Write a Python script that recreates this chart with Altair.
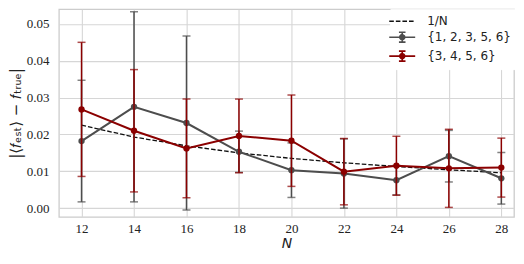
import altair as alt
import pandas as pd

N = [12, 14, 16, 18, 20, 22, 24, 26, 28]
gray_mean = [0.0182, 0.0275, 0.0231, 0.0153, 0.0103, 0.0094, 0.0076, 0.0141, 0.0081]
gray_err = [0.0165, 0.0258, 0.0236, 0.0056, 0.0074, 0.0094, 0.0040, 0.0070, 0.0070]
red_mean = [0.0268, 0.0210, 0.0162, 0.0196, 0.0183, 0.0099, 0.0115, 0.0108, 0.0110]
red_err = [0.0182, 0.0166, 0.0134, 0.0100, 0.0124, 0.0090, 0.0080, 0.0106, 0.0080]
inv_n = [0.0225, 0.0193, 0.0169, 0.0150, 0.0135, 0.0123, 0.0113, 0.0104, 0.0096]

series_names = ["1/N", "{1, 2, 3, 5, 6}", "{3, 4, 5, 6}"]
series_colors = ["#111111", "#4d4d4d", "#8b0000"]
x_ticks = [12, 14, 16, 18, 20, 22, 24, 26, 28]
y_ticks = [0.0, 0.01, 0.02, 0.03, 0.04, 0.05]

XDOM = [11.137, 28.483]
YDOM = [-0.00236, 0.05398]

def frame(mean, err, name):
    return pd.DataFrame({
        "N": N, "m": mean,
        "lo": [a - b for a, b in zip(mean, err)],
        "hi": [a + b for a, b in zip(mean, err)],
        "series": name,
    })

gray_df = frame(gray_mean, gray_err, series_names[1])
red_df = frame(red_mean, red_err, series_names[2])
inv_df = pd.DataFrame({"N": N, "v": inv_n})
legend_df = pd.DataFrame({"series": series_names})

xs = alt.Scale(domain=XDOM, nice=False, zero=False)
ys = alt.Scale(domain=YDOM, nice=False, zero=False)

x_axis = alt.Axis(values=x_ticks, title="N", grid=True, ticks=False, tickSize=0,
                  domain=False, labelFont="Liberation Serif", labelFontSize=13,
                  labelColor="#222222", labelPadding=6,
                  titleFont="DejaVu Sans", titleFontStyle="italic",
                  titleFontWeight="normal", titleFontSize=14, titleColor="#222222",
                  titlePadding=1)
y_axis = alt.Axis(values=y_ticks, format=".2f", title="|⟨𝑓ₑₛₜ⟩ − 𝑓ₜᵣᵤₑ|", grid=True,
                  ticks=False, tickSize=0, domain=False,
                  labelFont="Liberation Serif", labelFontSize=13, labelColor="#222222",
                  labelPadding=10, titleFont="DejaVu Sans", titleFontWeight="normal",
                  titleFontSize=15, titleColor="#222222", titlePadding=3)

base_x = alt.X("N:Q", scale=xs, axis=x_axis)

inv_line = alt.Chart(inv_df).mark_line(color="#111111", strokeWidth=1.3,
                                       strokeDash=[4.6, 2.0]).encode(
    x=base_x, y=alt.Y("v:Q", scale=ys, axis=y_axis))

def series_layers(df, color):
    x = alt.X("N:Q", scale=xs)
    line = alt.Chart(df).mark_line(color=color, strokeWidth=2).encode(
        x=x, y=alt.Y("m:Q", scale=ys))
    rule = alt.Chart(df).mark_rule(color=color, strokeWidth=1.5).encode(
        x=x, y=alt.Y("lo:Q", scale=ys), y2="hi:Q")
    cap_lo = alt.Chart(df).mark_tick(color=color, orient="horizontal", size=8,
                                     thickness=1.5).encode(x=x, y=alt.Y("lo:Q", scale=ys))
    cap_hi = alt.Chart(df).mark_tick(color=color, orient="horizontal", size=8,
                                     thickness=1.5).encode(x=x, y=alt.Y("hi:Q", scale=ys))
    pts = alt.Chart(df).mark_circle(color=color, size=40, opacity=1).encode(
        x=x, y=alt.Y("m:Q", scale=ys))
    return [line, rule, cap_lo, cap_hi, pts]

err_path = ("M-1.857,0H1.857M0,-0.714V0.714M-0.47,-0.714H0.47M-0.47,0.714H0.47"
            "M-0.35,0A0.35,0.35,0,1,0,0.35,0A0.35,0.35,0,1,0,-0.35,0Z")
dash_path = "M-1.857,0H1.857"

legend_layer = alt.Chart(legend_df).mark_point(opacity=0, size=196, strokeWidth=1.6).encode(
    fill=alt.Fill("series:N", scale=alt.Scale(domain=series_names, range=series_colors),
                  legend=alt.Legend(title=None)),
    stroke=alt.Stroke("series:N", scale=alt.Scale(domain=series_names, range=series_colors),
                      legend=alt.Legend(title=None)),
    shape=alt.Shape("series:N", scale=alt.Scale(domain=series_names,
                                                range=[dash_path, err_path, err_path]),
                    legend=alt.Legend(title=None)),
    strokeDash=alt.StrokeDash("series:N", scale=alt.Scale(domain=series_names,
                                                          range=[[4.6, 2.0], [1, 0], [1, 0]]),
                              legend=alt.Legend(title=None)),
)

layers = [inv_line] + series_layers(gray_df, series_colors[1]) + \
    series_layers(red_df, series_colors[2]) + [legend_layer]

chart = alt.layer(*layers).properties(
    width=456, height=208,
    padding={"left": 0, "top": 0, "right": 0, "bottom": 0},
).configure_view(
    stroke="#cccccc", strokeWidth=1.3
).configure_axis(
    gridColor="#d6d6d6", gridWidth=1.1
).configure_legend(
    orient="none", legendX=332, legendY=0, padding=4,
    fillColor="white", strokeColor="white",
    symbolSize=196, symbolStrokeWidth=1.6, symbolOpacity=1,
    labelFont="DejaVu Sans", labelFontSize=12, labelColor="#222222",
    labelOffset=17, rowPadding=1,
)

chart.save("out.html", embed_options={"renderer": "svg", "actions": False})
